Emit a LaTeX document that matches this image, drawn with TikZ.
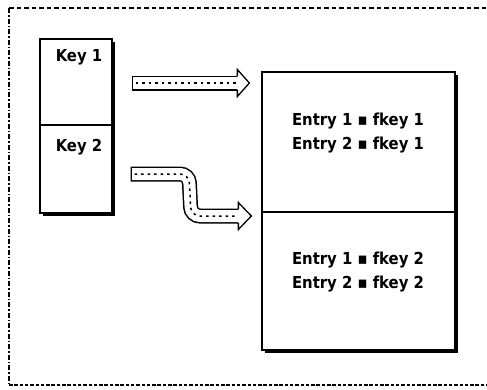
\documentclass[tikz,border=0pt]{standalone}
\usepackage{fontspec}
\setmainfont{DejaVu Sans}
\newfontfamily\lblfont{DejaVu Sans Condensed Bold}
\usetikzlibrary{calc,shadows}
\begin{document}
\begin{tikzpicture}[x=1pt,y=-1pt,
  box/.style={draw=black,fill=white,line width=1.3pt,rectangle,inner sep=0pt,
    drop shadow={shadow xshift=3.2pt,shadow yshift=-3.2pt,opacity=1,fill=black}},
  lbl/.style={font=\lblfont\fontsize{16.5}{24}\selectfont,inner sep=0pt,align=center},
  arrowout/.style={line width=15pt,draw=black},
  arrowin/.style={line width=12pt,draw=white},
  hatch/.style={line width=1.5pt,draw=black,dash pattern=on 2.5pt off 4pt},
  headst/.style={fill=white,draw=black,line width=1.3pt,line join=miter}
]
\useasboundingbox (0,0) rectangle (487,389);
\clip (0,0) rectangle (487,389);
% frame
\coordinate (ftl) at (9,8);
\coordinate (ftr) at (500,8);
\coordinate (fbl) at (9,385);
\coordinate (fbr) at (500,385);
\draw[line width=1.2pt,dash pattern=on 4.5pt off 3pt] (ftl) -- (ftr);
\draw[line width=1.2pt,dash pattern=on 5pt off 2pt on 1.5pt off 2pt] (ftl) -- (fbl);
\draw[line width=1.6pt,dash pattern=on 3.5pt off 1.8pt] (fbl) -- (fbr);

% key boxes
\node[box,minimum width=72pt,minimum height=86pt] (k1) at (76,82) {};
\node[box,minimum width=72pt,minimum height=88pt] (k2) at (76,169) {};
\node[lbl] (k1t) at (79,57) {Key 1};
\node[lbl] (k2t) at (79,147) {Key 2};

% entry boxes
\node[box,minimum width=193pt,minimum height=140pt] (e1) at (358.5,142) {};
\node[box,minimum width=193pt,minimum height=138pt] (e2) at (358.5,281) {};
\node[lbl] (e1t) at (358,133) {Entry 1 ▪ fkey 1\\Entry 2 ▪ fkey 1};
\node[lbl] (e2t) at (358,272) {Entry 1 ▪ fkey 2\\Entry 2 ▪ fkey 2};

% arrow 1
\coordinate (a1s) at ($(k1.east)+(19,1)$);
\coordinate (a1b) at ($(e1.west)+(-24,-59)$);
\coordinate (a1t) at ($(e1.west)+(-12,-59)$);
\draw[arrowout] (a1s) -- ($(a1b)+(1,0)$);
\draw[arrowin] ($(a1s)+(1.4,0)$) -- ($(a1b)+(1,0)$);
\draw[hatch] ($(a1s)+(4,0)$) -- (a1b);
\draw[headst] ($(a1b)+(0,-7)$) -- ($(a1b)+(0,-13.5)$) -- (a1t) -- ($(a1b)+(0,13.5)$) -- ($(a1b)+(0,7)$);

% arrow 2
\coordinate (a2s) at ($(k2.east)+(18,5)$);
\coordinate (a2m1) at (189,174);
\coordinate (a2m2) at (191,216);
\coordinate (a2b) at ($(e2.west)+(-23,-65)$);
\coordinate (a2t) at ($(e2.west)+(-10,-65)$);
\draw[arrowout,rounded corners=9pt] (a2s) -- (a2m1) -- (a2m2) -- ($(a2b)+(1,0)$);
\draw[arrowin,rounded corners=9pt] ($(a2s)+(1.4,0)$) -- (a2m1) -- (a2m2) -- ($(a2b)+(1,0)$);
\draw[hatch,rounded corners=9pt] ($(a2s)+(4,0)$) -- (a2m1) -- (a2m2) -- (a2b);
\draw[headst] ($(a2b)+(0,-7)$) -- ($(a2b)+(0,-13.5)$) -- (a2t) -- ($(a2b)+(0,13.5)$) -- ($(a2b)+(0,7)$);
\end{tikzpicture}
\end{document}
